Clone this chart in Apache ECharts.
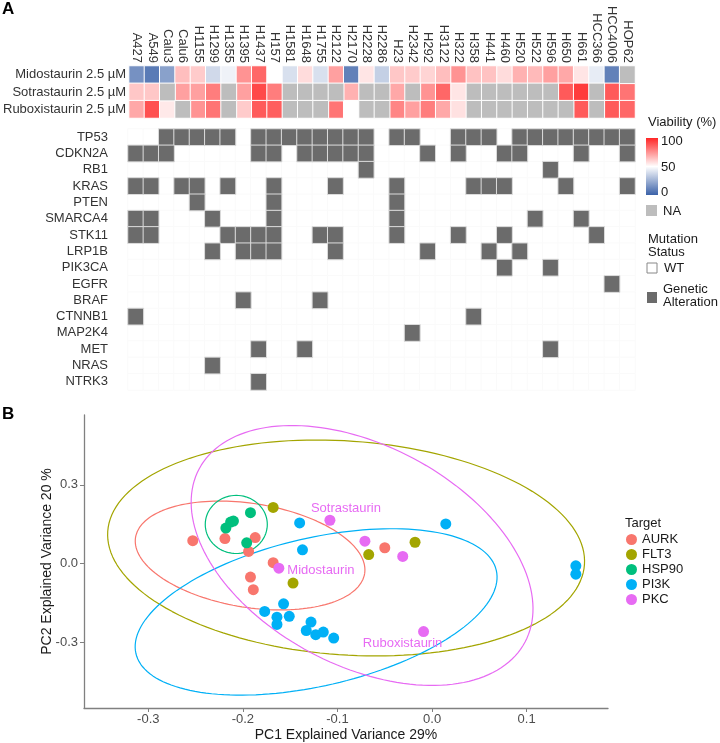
<!DOCTYPE html>
<html>
<head>
<meta charset="utf-8">
<script src="https://cdn.jsdelivr.net/npm/echarts@6/dist/echarts.min.js"></script>
<style>html,body{margin:0;padding:0;background:#fff}#main{width:720px;height:743px}</style>
</head>
<body>
<div id="main"></div>
<script>
// ---- panel A: viability heatmap ----
var cellLines = ['A427','A549','Calu3','Calu6','H1155','H1299','H1355','H1395','H1437','H157','H1581',
  'H1648','H1755','H2122','H2170','H2228','H2286','H23','H2342','H292','H3122','H322','H358','H441',
  'H460','H520','H522','H596','H650','H661','HCC366','HCC4006','HOP62'];
var drugs = ['Midostaurin 2.5 µM','Sotrastaurin 2.5 µM','Ruboxistaurin 2.5 µM'];
var midostaurin = [15,8,20,65,62,38,46,75,85,50,40,58,40,72,10,56,35,63,62,60,65,75,64,64,58,68,66,72,70,56,44,10,null];
var sotrastaurin = [63,63,null,72,72,80,null,72,92,80,null,null,null,null,68,null,null,70,null,75,85,56,null,null,null,null,null,null,88,95,null,88,82];
var ruboxistaurin = [70,90,55,null,75,82,null,62,88,87,null,null,null,82,50,null,null,78,72,80,70,57,null,null,null,null,null,null,null,88,null,88,85];

// ---- panel A: mutation status ----
var genes = ['TP53','CDKN2A','RB1','KRAS','PTEN','SMARCA4','STK11','LRP1B','PIK3CA','EGFR','BRAF','CTNNB1','MAP2K4','MET','NRAS','NTRK3'];
var altered = [
  ['Calu3','Calu6','H1155','H1299','H1355','H1437','H157','H1581','H1648','H1755','H2122','H2170','H2228','H23','H2342','H322','H358','H441','H520','H522','H596','H650','H661','HCC366','HCC4006','HOP62'],
  ['A427','A549','Calu3','H1437','H157','H1648','H1755','H2122','H2170','H2228','H292','H322','H460','H520','H661','HOP62'],
  ['H2228','H596'],
  ['A427','A549','Calu6','H1155','H1355','H157','H2122','H23','H358','H441','H460','H650','HOP62'],
  ['H1155','H157','H23'],
  ['A427','A549','H1299','H157','H23','H522','H661'],
  ['A427','A549','H1355','H1395','H1437','H157','H1755','H2122','H23','H322','H460','HCC366'],
  ['H1299','H1395','H1437','H157','H2122','H292','H441','H520'],
  ['H460','H596'],
  ['HCC4006'],
  ['H1395','H1755'],
  ['A427','H358'],
  ['H2342'],
  ['H1437','H1648','H596'],
  ['H1299'],
  ['H1437']
];

// ---- panel B: PCA ----
var targets = ['AURK','FLT3','HSP90','PI3K','PKC'];
var aurk = [[-0.253,0.087],[-0.219,0.095],[-0.187,0.099],[-0.194,0.046],[-0.168,0.003],[-0.192,-0.052],[-0.189,-0.100],[-0.050,0.060]];
var flt3 = [[-0.168,0.214],[-0.147,-0.075],[-0.067,0.034],[-0.018,0.081]];
var hsp90 = [[-0.218,0.135],[-0.213,0.158],[-0.210,0.162],[-0.192,0.194],[-0.196,0.079]];
var pi3k = [[-0.140,0.155],[-0.137,0.052],[-0.157,-0.154],[-0.177,-0.183],[-0.164,-0.205],[-0.164,-0.233],
  [-0.151,-0.202],[-0.128,-0.224],[-0.133,-0.256],[-0.123,-0.272],[-0.115,-0.262],[-0.104,-0.285],
  [0.0145,0.151],[0.152,-0.009],[0.152,-0.041]];
var pkc = [[-0.108,0.165],[-0.162,-0.018],[-0.071,0.085],[-0.031,0.027],[-0.009,-0.260]];
var pkcNames = ['Sotrastaurin','Midostaurin','','','Ruboxistaurin'];
// confidence ellipses: centre x, centre y, then two conjugate semi-axis vectors
var ellipses = [
  [-0.1924,0.0305,0.1211,-0.0691,-0.0086,-0.196],
  [-0.0909,0.0592,0.252,-0.0637,-0.0079,-0.4074],
  [-0.207,0.149,0.0328,0,0,0.111],
  [-0.1226,-0.1851,0.1905,0.1588,0.0176,-0.2752],
  [-0.074,0.0305,0.1723,-0.3305,-0.0545,-0.3703]
];
var xTicks = [-0.3,-0.2,-0.1,0,0.1];
var yTicks = [-0.3,0,0.3];

var colors = ['#F8766D','#A3A500','#00BF7D','#00B0F6','#E76BF3'];
var font = 'Liberation Sans, Arial, sans-serif';
var chart = echarts.init(document.getElementById('main'));

var viaData = [], naData = [];
[midostaurin, sotrastaurin, ruboxistaurin].forEach(function (row, r) {
  row.forEach(function (v, c) {
    if (v === null) naData.push([c, r, 0]);
    else viaData.push([c, r, v]);
  });
});
var wtData = [], altData = [];
genes.forEach(function (g, r) {
  cellLines.forEach(function (cl, c) {
    if (altered[r].indexOf(cl) >= 0) altData.push([c, r, 1]);
    else wtData.push([c, r, 0]);
  });
});

function ellipsePath(e) {
  var pts = [];
  for (var i = 0; i <= 160; i++) {
    var t = i / 160 * 2 * Math.PI;
    pts.push([e[0] + e[2] * Math.cos(t) + e[4] * Math.sin(t), e[1] + e[3] * Math.cos(t) + e[5] * Math.sin(t)]);
  }
  return pts;
}

var groups = [aurk, flt3, hsp90, pi3k, pkc];
var series = [
  { type: 'heatmap', xAxisIndex: 0, yAxisIndex: 0, data: viaData,
    itemStyle: { borderColor: '#fff', borderWidth: 1 }, emphasis: { disabled: true } },
  { type: 'heatmap', xAxisIndex: 0, yAxisIndex: 0, data: naData,
    itemStyle: { color: '#bdbdbd', borderColor: '#fff', borderWidth: 1 }, emphasis: { disabled: true } },
  { type: 'heatmap', xAxisIndex: 1, yAxisIndex: 1, data: wtData,
    itemStyle: { color: '#fff', borderColor: '#fafafa', borderWidth: 1 }, emphasis: { disabled: true } },
  { type: 'heatmap', xAxisIndex: 1, yAxisIndex: 1, data: altData,
    itemStyle: { color: '#6b6b6b', borderColor: '#dcdcdc', borderWidth: 1 }, emphasis: { disabled: true } }
];
targets.forEach(function (t, i) {
  series.push({ type: 'line', name: t + ' ellipse', xAxisIndex: 2, yAxisIndex: 2, data: ellipsePath(ellipses[i]),
    showSymbol: false, symbol: 'none', silent: true, z: 2,
    lineStyle: { color: colors[i], width: 1.2 } });
});
targets.forEach(function (t, i) {
  var data = groups[i].map(function (p, k) {
    var item = { value: p };
    if (t === 'PKC' && pkcNames[k]) {
      item.name = pkcNames[k];
      var lab = { show: true, formatter: '{b}', color: colors[4], fontSize: 13, fontFamily: font };
      if (pkcNames[k] === 'Sotrastaurin') { lab.position = 'top'; lab.distance = 0; lab.offset = [16, 0]; }
      if (pkcNames[k] === 'Midostaurin') { lab.position = 'right'; lab.distance = 3; lab.offset = [0, 2]; }
      if (pkcNames[k] === 'Ruboxistaurin') { lab.position = 'bottom'; lab.distance = 0; lab.offset = [-21, 0]; }
      item.label = lab;
    }
    return item;
  });
  series.push({ type: 'scatter', name: t, xAxisIndex: 2, yAxisIndex: 2, data: data, symbolSize: 11, z: 3,
    itemStyle: { color: colors[i], opacity: 1 } });
});

function txt(x, y, s, extra) {
  var st = { text: s, x: x, y: y, font: '13px ' + font, fill: '#1a1a1a', verticalAlign: 'middle' };
  for (var k in extra) st[k] = extra[k];
  return { type: 'text', silent: true, style: st };
}

var option = {
  animation: false,
  textStyle: { fontFamily: font },
  grid: [
    { left: 128, top: 66, width: 507, height: 52 },
    { left: 128, top: 129, width: 507, height: 261 },
    { left: 84, top: 415, width: 524, height: 293 }
  ],
  xAxis: [
    { gridIndex: 0, type: 'category', data: cellLines, position: 'top',
      axisLine: { show: false }, axisTick: { show: false },
      axisLabel: { rotate: 90, interval: 0, fontSize: 13, color: '#333', margin: 3 } },
    { gridIndex: 1, type: 'category', data: cellLines, show: false },
    { gridIndex: 2, type: 'value', min: -0.368, max: 0.186,
      name: 'PC1 Explained Variance 29%', nameLocation: 'middle', nameGap: 20, nameMoveOverlap: false,
      nameTextStyle: { fontSize: 14, color: '#1a1a1a' },
      axisLine: { onZero: false, lineStyle: { color: '#808080', width: 1.3 } },
      axisTick: { length: 4, customValues: xTicks, lineStyle: { color: '#808080' } },
      axisLabel: { customValues: xTicks, fontSize: 13, color: '#4d4d4d', margin: 5,
        formatter: function (v) { return v.toFixed(1); } },
      splitLine: { show: false } }
  ],
  yAxis: [
    { gridIndex: 0, type: 'category', data: drugs, inverse: true,
      axisLine: { show: false }, axisTick: { show: false },
      axisLabel: { fontSize: 13, color: '#333', margin: 3 } },
    { gridIndex: 1, type: 'category', data: genes, inverse: true,
      axisLine: { show: false }, axisTick: { show: false },
      axisLabel: { fontSize: 13, color: '#333', margin: 20, interval: 0 } },
    { gridIndex: 2, type: 'value', min: -0.552, max: 0.567,
      name: 'PC2 Explained Variance 20 %', nameLocation: 'middle', nameGap: 30, nameMoveOverlap: false,
      nameTextStyle: { fontSize: 14, color: '#1a1a1a' },
      axisLine: { onZero: false, lineStyle: { color: '#808080', width: 1.3 } },
      axisTick: { length: 4, customValues: yTicks, lineStyle: { color: '#808080' } },
      axisLabel: { customValues: yTicks, fontSize: 13, color: '#4d4d4d', margin: 6,
        formatter: function (v) { return v.toFixed(1); } },
      splitLine: { show: false } }
  ],
  visualMap: {
    show: false, seriesIndex: 0, min: 0, max: 100,
    inRange: { color: ['#3b62a8', '#ffffff', '#ff2626'] }
  },
  legend: {
    data: targets, orient: 'vertical', left: 626, top: 533, padding: 0, icon: 'circle',
    itemWidth: 11, itemHeight: 11, itemGap: 2,
    textStyle: { fontSize: 13, color: '#1a1a1a' }
  },
  graphic: [
    txt(2, 9, 'A', { font: 'bold 17px ' + font, fill: '#000' }),
    txt(2, 414, 'B', { font: 'bold 17px ' + font, fill: '#000' }),
    txt(648, 122, 'Viability (%)'),
    { type: 'rect', silent: true, shape: { x: 646, y: 138, width: 12, height: 57 },
      style: { fill: new echarts.graphic.LinearGradient(0, 0, 0, 1, [
        { offset: 0, color: '#ff2626' }, { offset: 0.5, color: '#ffffff' }, { offset: 1, color: '#3b62a8' }]) } },
    txt(661, 141, '100'),
    txt(661, 167, '50'),
    txt(661, 192, '0'),
    { type: 'rect', silent: true, shape: { x: 646, y: 205, width: 11, height: 11 }, style: { fill: '#bdbdbd' } },
    txt(663, 211, 'NA'),
    txt(648, 239, 'Mutation'),
    txt(648, 252, 'Status'),
    { type: 'rect', silent: true, shape: { x: 647, y: 263, width: 10, height: 10 },
      style: { fill: '#fff', stroke: '#888', lineWidth: 1 } },
    txt(664, 268, 'WT'),
    { type: 'rect', silent: true, shape: { x: 647, y: 292, width: 10, height: 11 }, style: { fill: '#6b6b6b' } },
    txt(663, 289, 'Genetic'),
    txt(663, 302, 'Alteration'),
    txt(625, 523, 'Target')
  ],
  series: series
};
chart.setOption(option);
</script>
</body>
</html>
